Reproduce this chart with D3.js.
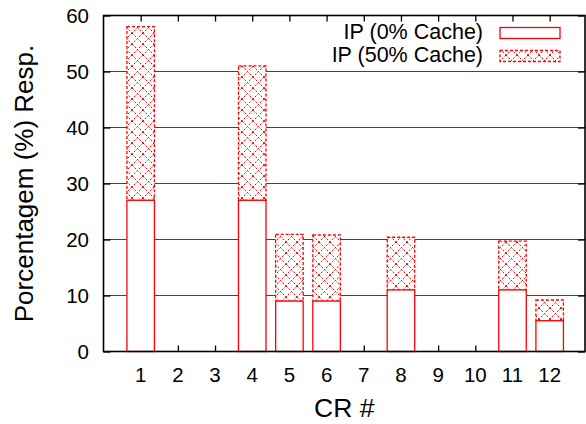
<!DOCTYPE html>
<html>
<head>
<meta charset="utf-8">
<script src="https://cdn.jsdelivr.net/npm/d3@7"></script>
<style>
  html, body { margin: 0; padding: 0; background: #fff; }
  svg text { font-family: "Liberation Sans", Arial, Helvetica, sans-serif; fill: #000; }
</style>
</head>
<body>
<svg id="chart" width="586" height="424"></svg>
<script>
// ---- data ----
const categories = [1, 2, 3, 4, 5, 6, 7, 8, 9, 10, 11, 12];
const ip0Cache  = [27, 0, 0, 27, 9, 9, 0, 11, 0, 0, 11, 5.5];     // IP (0% Cache)
const ip50Cache = [58, 0, 0, 51, 20.9, 20.8, 0, 20.4, 0, 0, 19.7, 9.2]; // IP (50% Cache), top of stack
const yTicks = [0, 10, 20, 30, 40, 50, 60];
const seriesNames = ["IP (0% Cache)", "IP (50% Cache)"];

const svg = d3.select("#chart");
const red = "#ff0000";

const x = d3.scaleLinear().domain([0, 12.95]).range([103.5, 585]);
const y = d3.scaleLinear().domain([0, 60]).range([351.5, 15.5]);
const barW = x(0.74) - x(0);

// pattern
const P = 11;
const defs = svg.append("defs");
const pat = defs.append("pattern").attr("id", "xhatch")
  .attr("patternUnits", "userSpaceOnUse").attr("width", P).attr("height", P);
pat.append("rect").attr("width", P).attr("height", P).attr("fill", "#fff");
pat.append("path").attr("d", `M0,0L${P},${P}M${P},0L0,${P}`)
  .attr("stroke", red).attr("stroke-width", 1).attr("stroke-dasharray", "2,1.6").attr("fill", "none");

const x0 = x.range()[0], x1 = x.range()[1];
const yTop = y(60), yBot = y(0);

// grid lines
svg.append("g").selectAll("line").data(yTicks.filter(d => d > 0 && d < 60)).join("line")
  .attr("x1", x0).attr("x2", x1).attr("y1", d => y(d)).attr("y2", d => y(d))
  .attr("stroke", "#444").attr("stroke-width", 1.2);

// axes with inward ticks
const tickLen = 6;
svg.append("g").attr("transform", `translate(0,${yBot})`)
  .call(d3.axisBottom(x).tickValues(categories).tickSize(-tickLen).tickFormat(""))
  .call(g => g.select(".domain").remove())
  .call(g => g.selectAll("line").attr("stroke", "#000").attr("stroke-width", 1.3));
svg.append("g").attr("transform", `translate(0,${yTop})`)
  .call(d3.axisTop(x).tickValues(categories).tickSize(-tickLen).tickFormat(""))
  .call(g => g.select(".domain").remove())
  .call(g => g.selectAll("line").attr("stroke", "#000").attr("stroke-width", 1.3));
svg.append("g").attr("transform", `translate(${x0},0)`)
  .call(d3.axisLeft(y).tickValues(yTicks).tickSize(-7).tickFormat(""))
  .call(g => g.select(".domain").remove())
  .call(g => g.selectAll("line").attr("stroke", "#000").attr("stroke-width", 1.3));
svg.append("g").attr("transform", `translate(${x1},0)`)
  .call(d3.axisRight(y).tickValues(yTicks).tickSize(-7).tickFormat(""))
  .call(g => g.select(".domain").remove())
  .call(g => g.selectAll("line").attr("stroke", "#000").attr("stroke-width", 1.3));

// bars
const rows = categories.map((c, i) => ({ c, a: ip0Cache[i], b: ip50Cache[i] })).filter(d => d.b > 0);
const gb = svg.append("g");
gb.selectAll("rect.top").data(rows).join("rect").attr("class", "top")
  .attr("x", d => x(d.c) - barW / 2).attr("width", barW)
  .attr("y", d => y(d.b)).attr("height", d => y(d.a) - y(d.b))
  .attr("fill", "url(#xhatch)").attr("stroke", red).attr("stroke-width", 1.3)
  .attr("stroke-dasharray", "3,2");
gb.selectAll("rect.base").data(rows).join("rect").attr("class", "base")
  .attr("x", d => x(d.c) - barW / 2).attr("width", barW)
  .attr("y", d => y(d.a)).attr("height", d => y(0) - y(d.a))
  .attr("fill", "#fff").attr("stroke", red).attr("stroke-width", 1.3);

// frame
svg.append("rect").attr("x", x0).attr("y", yTop).attr("width", x1 - x0).attr("height", yBot - yTop)
  .attr("fill", "none").attr("stroke", "#000").attr("stroke-width", 1.6);

// tick labels
svg.append("g").selectAll("text").data(yTicks).join("text")
  .attr("x", 89).attr("y", d => y(d)).attr("dy", "0.36em")
  .attr("text-anchor", "end").attr("font-size", 20.5).text(d => d);
svg.append("g").selectAll("text").data(categories).join("text")
  .attr("x", d => x(d)).attr("y", 381.5)
  .attr("text-anchor", "middle").attr("font-size", 20.5).text(d => d);

// axis titles
svg.append("text").attr("x", (x0 + x1) / 2).attr("y", 417)
  .attr("text-anchor", "middle").attr("font-size", 26.5).text("CR #");
svg.append("text").attr("transform", `translate(33,${(yTop + yBot) / 2}) rotate(-90)`)
  .attr("text-anchor", "middle").attr("font-size", 26).text("Porcentagem (%) Resp.");

// legend
const lg = svg.append("g");
seriesNames.forEach((name, i) => {
  const by = 38.5 + i * 23;
  lg.append("text").attr("x", 483).attr("y", by).attr("text-anchor", "end")
    .attr("font-size", 21.5).text(name);
  const r = lg.append("rect").attr("x", 500).attr("y", by - 11).attr("width", 60).attr("height", 11)
    .attr("stroke", red).attr("stroke-width", 1.3);
  if (i === 0) r.attr("fill", "#fff");
  else r.attr("fill", "url(#xhatch)").attr("stroke-dasharray", "3,2");
});
</script>
</body>
</html>
